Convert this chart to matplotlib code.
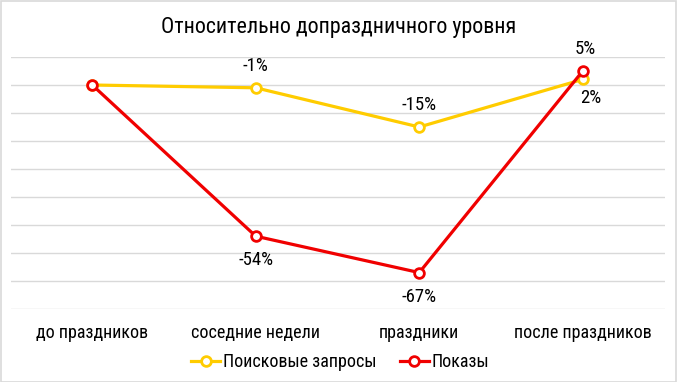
import matplotlib
matplotlib.use("Agg")
import matplotlib.pyplot as plt
from matplotlib.patches import Rectangle
from matplotlib import font_manager

categories = ["до праздников", "соседние недели", "праздники", "после праздников"]
search = [0, -1, -15, 2]
shows = [0, -54, -67, 5]
search_labels = [None, "-1%", "-15%", "2%"]
shows_labels = [None, "-54%", "-67%", "5%"]
title = "Относительно допраздничного уровня"
series_names = ["Поисковые запросы", "Показы"]

names = {f.name for f in font_manager.fontManager.ttflist}
fam = "DejaVu Sans"
for cand in ["Roboto Condensed", "PT Sans Narrow", "Open Sans Condensed", "Liberation Sans Narrow",
             "Arial Narrow", "Fira Sans Condensed", "IBM Plex Sans Condensed", "Roboto"]:
    if cand in names:
        fam = cand
        break
plt.rcParams["font.family"] = [fam, "DejaVu Sans"]

W, H = 677, 382
fig = plt.figure(figsize=(W / 100, H / 100), dpi=100)
ax = fig.add_axes([10.5 / W, 1 - 309 / H, 654 / W, (309 - 57) / H])

yellow = "#FFCC00"
red = "#F00000"
x = list(range(len(categories)))

ax.plot(x, search, color=yellow, lw=2.3, marker="o", ms=7, mfc="white",
        mec=yellow, mew=2, label=series_names[0], zorder=3)
ax.plot(x, shows, color=red, lw=2.3, marker="o", ms=7, mfc="white",
        mec=red, mew=2, label=series_names[1], zorder=4)

ax.set_xlim(-0.5, 3.5)
ax.set_ylim(-80, 10)
ax.set_yticks(range(-80, 11, 10))
ax.set_yticklabels([])
ax.tick_params(axis="y", length=0)
ax.grid(axis="y", color="#d9d9d9", lw=1)
ax.set_axisbelow(True)
for s in ax.spines.values():
    s.set_visible(False)
ax.set_xticks(x)
ax.set_xticklabels(categories, fontsize=13)
ax.tick_params(axis="x", length=0, pad=10.5)

fs = 13.5
offs_search = [None, (0, 9), (0, 9), (6, -7)]
for i, lab in enumerate(search_labels):
    if lab:
        dx, dy = offs_search[i]
        ax.annotate(lab, (x[i], search[i]), xytext=(dx, dy), textcoords="offset points",
                    ha="center", va="bottom" if dy > 0 else "top", fontsize=fs)
offs_shows = [None, (0, -10.5), (0, -11), (2, 9)]
for i, lab in enumerate(shows_labels):
    if lab:
        dx, dy = offs_shows[i]
        ax.annotate(lab, (x[i], shows[i]), xytext=(dx, dy), textcoords="offset points",
                    ha="center", va="bottom" if dy > 0 else "top", fontsize=fs)

fig.text(0.5, 1 - 28 / H, title, ha="center", va="center", fontsize=15.8)

leg = fig.legend(loc="center", bbox_to_anchor=(340 / W, 1 - 362 / H), ncol=2,
                 frameon=False, fontsize=13, handlelength=1.6, handletextpad=0.15,
                 columnspacing=1.3)

fig.patches.append(Rectangle((0.5 / W, 0.5 / H), 1 - 1.5 / W, 1 - 1.5 / H,
                             transform=fig.transFigure, fill=False, ec="#d9d9d9", lw=1.2))

fig.savefig("out.png", dpi=100)
